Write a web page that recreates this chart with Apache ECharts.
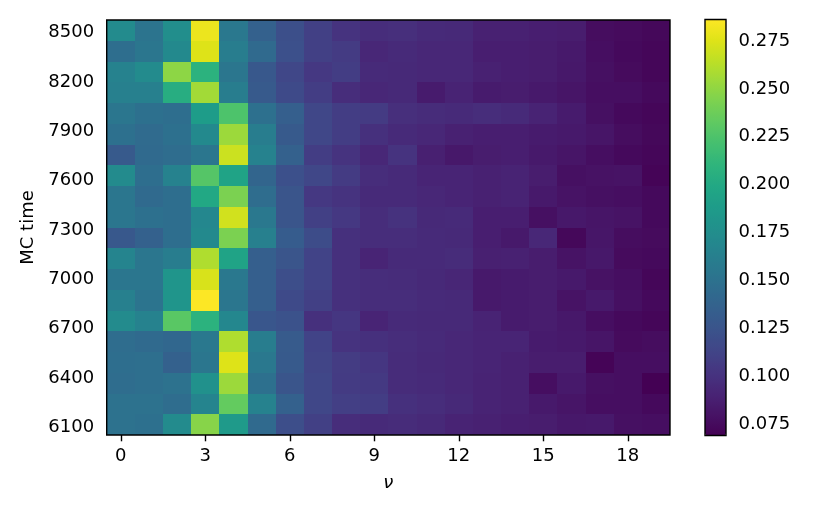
<!DOCTYPE html>
<html>
<head>
<meta charset="utf-8">
<script src="https://cdn.jsdelivr.net/npm/echarts@6/dist/echarts.min.js"></script>
<style>
html,body{margin:0;padding:0;background:#fff;}
#chart{width:831px;height:514px;}
</style>
</head>
<body>
<div id="chart"></div>
<script>
// ν (x categories)
const nu = [0,1,2,3,4,5,6,7,8,9,10,11,12,13,14,15,16,17,18,19];
// MC time row centres (bottom to top)
const mcTime = [6116.0,6242.2,6368.4,6494.6,6620.8,6747.0,6873.2,6999.4,7125.6,7251.8,7378.0,7504.2,7630.4,7756.6,7882.8,8009.0,8135.2,8261.4,8387.6,8513.8];
// cell values, one row per MC time (same order as mcTime)
const values = [
  [0.150,0.149,0.173,0.247,0.186,0.143,0.120,0.110,0.097,0.095, 0.096,0.094,0.090,0.089,0.087,0.086,0.083,0.084,0.078,0.077],
  [0.150,0.150,0.146,0.167,0.234,0.165,0.136,0.115,0.109,0.108, 0.099,0.097,0.094,0.090,0.089,0.084,0.081,0.077,0.077,0.074],
  [0.146,0.148,0.150,0.178,0.254,0.149,0.126,0.115,0.106,0.105, 0.096,0.095,0.093,0.090,0.089,0.077,0.084,0.078,0.077,0.069],
  [0.147,0.148,0.136,0.154,0.275,0.156,0.130,0.113,0.107,0.103, 0.096,0.094,0.093,0.091,0.089,0.086,0.086,0.071,0.077,0.077],
  [0.146,0.143,0.141,0.156,0.260,0.160,0.131,0.112,0.101,0.099, 0.097,0.095,0.093,0.091,0.091,0.085,0.084,0.081,0.075,0.076],
  [0.173,0.165,0.230,0.208,0.169,0.127,0.123,0.099,0.103,0.091, 0.095,0.094,0.094,0.090,0.085,0.086,0.083,0.077,0.074,0.072],
  [0.163,0.152,0.182,0.286,0.154,0.134,0.117,0.110,0.099,0.097, 0.097,0.095,0.094,0.084,0.085,0.086,0.080,0.084,0.078,0.074],
  [0.154,0.154,0.182,0.273,0.156,0.134,0.120,0.112,0.099,0.097, 0.096,0.094,0.092,0.084,0.085,0.086,0.084,0.079,0.077,0.072],
  [0.167,0.154,0.160,0.260,0.195,0.134,0.126,0.112,0.099,0.091, 0.095,0.095,0.096,0.088,0.089,0.086,0.080,0.083,0.075,0.074],
  [0.128,0.136,0.147,0.171,0.243,0.163,0.132,0.119,0.099,0.097, 0.097,0.095,0.094,0.087,0.084,0.093,0.073,0.082,0.076,0.075],
  [0.154,0.149,0.147,0.169,0.271,0.156,0.126,0.110,0.104,0.097, 0.100,0.094,0.095,0.087,0.087,0.078,0.083,0.081,0.080,0.074],
  [0.154,0.143,0.147,0.199,0.243,0.146,0.126,0.104,0.101,0.095, 0.095,0.093,0.091,0.089,0.090,0.084,0.080,0.078,0.077,0.074],
  [0.173,0.147,0.165,0.228,0.195,0.139,0.122,0.115,0.106,0.097, 0.095,0.091,0.091,0.089,0.090,0.086,0.078,0.079,0.080,0.071],
  [0.130,0.143,0.146,0.154,0.269,0.165,0.136,0.108,0.101,0.093, 0.101,0.088,0.083,0.086,0.087,0.084,0.081,0.077,0.074,0.072],
  [0.149,0.144,0.149,0.171,0.254,0.160,0.130,0.115,0.108,0.099, 0.095,0.093,0.089,0.087,0.087,0.085,0.084,0.081,0.076,0.073],
  [0.154,0.149,0.147,0.188,0.225,0.149,0.134,0.115,0.108,0.106, 0.098,0.096,0.095,0.097,0.095,0.090,0.085,0.078,0.074,0.072],
  [0.163,0.163,0.204,0.256,0.160,0.130,0.117,0.108,0.097,0.093, 0.094,0.085,0.090,0.085,0.086,0.084,0.081,0.077,0.077,0.074],
  [0.165,0.173,0.249,0.208,0.154,0.128,0.115,0.104,0.108,0.095, 0.094,0.093,0.093,0.089,0.087,0.086,0.083,0.078,0.075,0.072],
  [0.147,0.154,0.171,0.275,0.160,0.143,0.122,0.110,0.106,0.093, 0.095,0.093,0.093,0.087,0.087,0.086,0.084,0.077,0.074,0.072],
  [0.173,0.152,0.175,0.280,0.156,0.136,0.121,0.110,0.101,0.097, 0.098,0.095,0.094,0.089,0.089,0.087,0.086,0.076,0.075,0.073]
];
// tick labels
const xTicks = [0,3,6,9,12,15,18];
const yTicks = [6100,6400,6700,7000,7300,7600,7900,8200,8500];
const cbTicks = [0.075,0.100,0.125,0.150,0.175,0.200,0.225,0.250,0.275];
const cbMin = 0.069, cbMax = 0.2862;

const viridis = ['#440154','#471365','#482475','#463480','#414487','#3b528b','#355f8d','#2f6c8e','#2a788e','#25848e','#21918c','#1e9c89','#22a884','#2fb47c','#44bf70','#5ec962','#7ad151','#9bd93c','#bddf26','#dfe318','#fde725'];

const data = [];
for (let r = 0; r < mcTime.length; r++) {
  for (let c = 0; c < nu.length; c++) {
    data.push([nu[c], mcTime[r], values[r][c]]);
  }
}
const dy = (mcTime[mcTime.length-1] - mcTime[0]) / (mcTime.length - 1);
const dx = 1;

const font = 'DejaVu Sans';
const lab = {color:'#000', fontSize:18, fontFamily:font};
const tickStyle = {color:'#000', width:1.4};

const chart = echarts.init(document.getElementById('chart'), null, {renderer:'canvas'});
chart.setOption({
  animation:false,
  backgroundColor:'#fff',
  grid:[
    {left:106.7, top:20, width:563.3, height:415, show:true, borderColor:'#000', borderWidth:1.4, backgroundColor:'transparent', z:5},
    {left:705, top:19.5, width:21, height:416, show:true, borderColor:'#000', borderWidth:1.4, backgroundColor:'transparent', z:10}
  ],
  xAxis:[
    {type:'value', gridIndex:0, min:nu[0]-dx/2, max:nu[nu.length-1]+dx/2,
     axisLine:{show:false}, splitLine:{show:false},
     axisTick:{show:true, inside:false, length:6.3, lineStyle:tickStyle, customValues:xTicks},
     axisLabel:Object.assign({margin:12.6, customValues:xTicks, formatter:function(v){return String(v);}}, lab),
     name:'ν', nameLocation:'middle', nameGap:39,
     nameTextStyle:{color:'#000', fontSize:18, fontFamily:font, fontStyle:'italic'}},
    {type:'value', gridIndex:1, show:false, min:0, max:1}
  ],
  yAxis:[
    {type:'value', gridIndex:0, min:mcTime[0]-dy/2, max:mcTime[mcTime.length-1]+dy/2,
     axisLine:{show:false}, splitLine:{show:false},
     axisTick:{show:true, inside:false, length:6.3, lineStyle:tickStyle, customValues:yTicks},
     axisLabel:Object.assign({margin:12.6, customValues:yTicks, formatter:function(v){return String(v);}}, lab),
     name:'MC time', nameLocation:'middle', nameGap:55, nameRotate:90,
     nameTextStyle:{color:'#000', fontSize:18, fontFamily:font}},
    {type:'value', gridIndex:1, position:'right', min:cbMin, max:cbMax,
     axisLine:{show:false}, splitLine:{show:false},
     axisTick:{show:true, inside:false, length:6.3, lineStyle:tickStyle, customValues:cbTicks},
     axisLabel:Object.assign({margin:12.6, customValues:cbTicks, formatter:function(v){return v.toFixed(3);}}, lab)}
  ],
  visualMap:{
    type:'continuous', min:cbMin, max:cbMax, dimension:2, seriesIndex:0,
    orient:'vertical', left:705, top:19.5, itemWidth:21, itemHeight:416,
    padding:0, calculable:false, realtime:false, hoverLink:false,
    text:null, showLabel:false, z:4,
    inRange:{color:viridis}
  },
  series:[{
    type:'custom', xAxisIndex:0, yAxisIndex:0, clip:true,
    encode:{x:0, y:1},
    data:data,
    renderItem:function(params, api){
      const x = api.value(0), y = api.value(1);
      const p0 = api.coord([x - dx/2, y + dy/2]);
      const p1 = api.coord([x + dx/2, y - dy/2]);
      const x0 = Math.round(p0[0]), y0 = Math.round(p0[1]);
      const x1 = Math.round(p1[0]), y1 = Math.round(p1[1]);
      const col = api.visual('color');
      return {type:'rect', shape:{x:x0, y:y0, width:x1-x0, height:y1-y0},
              style:{fill:col, lineWidth:0}};
    }
  }]
});
</script>
</body>
</html>
